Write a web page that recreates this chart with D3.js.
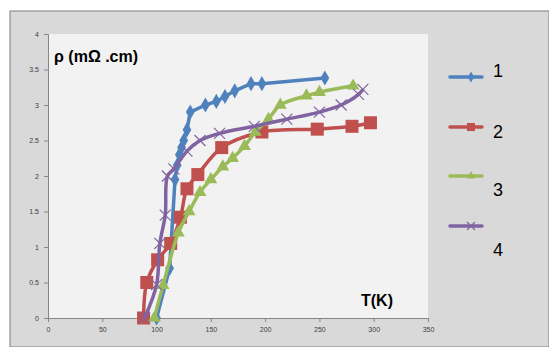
<!DOCTYPE html>
<html lang="en">
<head>
  <meta charset="UTF-8" />
  <title>rho vs T</title>
  <script src="https://d3js.org/d3.v7.min.js"></script>
  <style>
    body { margin: 0; background: #fff; font-family: 'Liberation Sans', Arial, sans-serif; }
    svg { display: block; }
  </style>
</head>
<body>
  <svg id="chart"></svg>
  <script>
    // series: [T (K), rho (mOhm.cm)]
    const series1 = [[100,0],[112,0.7],[117,1.95],[119,2.15],[121,2.3],[123,2.4],[125,2.5],[128,2.65],[131,2.9],[145,3.0],[155,3.05],[163,3.12],[172,3.2],[187,3.3],[197,3.3],[255,3.38]];
    const series2 = [[88,0],[91,0.5],[101,0.82],[113,1.05],[122,1.42],[128,1.82],[138,2.02],[160,2.4],[197,2.62],[248,2.66],[280,2.7],[297,2.75]];
    const series3 = [[98,0],[106,0.46],[120,1.2],[130,1.5],[140,1.77],[150,1.95],[161,2.13],[170,2.25],[181,2.42],[191,2.62],[203,2.8],[214,3.0],[238,3.13],[250,3.18],[281,3.27]];
    const series4 = [[89,0],[100,0.47],[103,1.05],[108,1.45],[110,2.0],[116,2.1],[128,2.35],[140,2.5],[158,2.6],[190,2.7],[220,2.8],[250,2.9],[270,3.0],[286,3.15],[290,3.22]];
    const seriesNames = ["1", "2", "3", "4"];
    const xTicks = [0, 50, 100, 150, 200, 250, 300, 350];
    const yTicks = [0, 0.5, 1, 1.5, 2, 2.5, 3, 3.5, 4];

    const W = 549, H = 347;
    const svg = d3.select("#chart").attr("width", W).attr("height", H);

    // chart area
    svg.append("rect").attr("x", 10).attr("y", 11).attr("width", W - 10).attr("height", H - 11)
      .attr("fill", "#d9d9d9").attr("stroke", "#7f7f7f").attr("stroke-width", 1);

    const plot = { left: 48, top: 34, right: 428, bottom: 318 };
    svg.append("rect").attr("x", plot.left).attr("y", plot.top)
      .attr("width", plot.right - plot.left).attr("height", plot.bottom - plot.top)
      .attr("fill", "#f2f2f2");

    const x = d3.scaleLinear().domain([0, 350]).range([plot.left, plot.right]);
    const y = d3.scaleLinear().domain([0, 4]).range([plot.bottom, plot.top]);

    const xAxis = svg.append("g").attr("transform", `translate(0,${plot.bottom})`)
      .call(d3.axisBottom(x).tickValues(xTicks).tickSize(4).tickPadding(5));
    const yAxis = svg.append("g").attr("transform", `translate(${plot.left},0)`)
      .call(d3.axisLeft(y).tickValues(yTicks).tickSize(4).tickPadding(5).tickFormat(d3.format("")));
    [xAxis, yAxis].forEach(a => {
      a.select(".domain").attr("stroke", "#868686");
      a.selectAll(".tick line").attr("stroke", "#868686");
      a.selectAll(".tick text").attr("fill", "#404040").attr("font-size", "7px");
    });

    const colors = ["#4f81bd", "#c0504d", "#9bbb59", "#8064a2"];
    const data = [series1, series2, series3, series4];
    const curves = [d3.curveLinear, d3.curveCatmullRom, d3.curveCatmullRom, d3.curveCatmullRom];

    function marker(g, i, cx, cy, s) {
      if (i === 0) {
        g.append("path").attr("d", d3.symbol(d3.symbolDiamond, s * s * 0.55)())
          .attr("transform", `translate(${cx},${cy}) scale(1,1)`).attr("fill", colors[i]);
      } else if (i === 1) {
        g.append("rect").attr("x", cx - s / 2).attr("y", cy - s / 2).attr("width", s).attr("height", s)
          .attr("fill", colors[i]);
      } else if (i === 2) {
        g.append("path").attr("d", d3.symbol(d3.symbolTriangle, s * s * 0.5)())
          .attr("transform", `translate(${cx},${cy})`).attr("fill", colors[i]);
      } else {
        const h = s / 2;
        g.append("path").attr("d", `M${cx - h},${cy - h}L${cx + h},${cy + h}M${cx - h},${cy + h}L${cx + h},${cy - h}`)
          .attr("stroke", colors[i]).attr("stroke-width", 1.2).attr("fill", "none");
      }
    }

    const sizes = [11, 13, 12, 11];
    data.forEach((d, i) => {
      const line = d3.line().x(p => x(p[0])).y(p => y(p[1])).curve(curves[i]);
      svg.append("path").datum(d).attr("d", line)
        .attr("fill", "none").attr("stroke", colors[i]).attr("stroke-width", 3.5)
        .attr("stroke-linejoin", "round");
      const g = svg.append("g");
      d.forEach(p => marker(g, i, x(p[0]), y(p[1]), sizes[i]));
    });

    // legend
    const legY = [77, 127, 176, 226];
    const legLabelY = [77, 138, 196, 256];
    seriesNames.forEach((name, i) => {
      svg.append("line").attr("x1", 450).attr("x2", 482).attr("y1", legY[i]).attr("y2", legY[i])
        .attr("stroke", colors[i]).attr("stroke-width", 3.5).attr("stroke-linecap", "round");
      marker(svg.append("g"), i, 471, legY[i], i === 3 ? 8 : 8);
      svg.append("text").attr("x", 493).attr("y", legLabelY[i]).attr("font-size", "18px")
        .attr("fill", "#000").text(name);
    });

    svg.append("text").attr("x", 54).attr("y", 62).attr("font-size", "16px").attr("font-weight", "bold")
      .attr("fill", "#000").text("ρ (mΩ .cm)");
    svg.append("text").attr("x", 361).attr("y", 306).attr("font-size", "16px").attr("font-weight", "bold")
      .attr("fill", "#000").text("T(K)");
  </script>
</body>
</html>
